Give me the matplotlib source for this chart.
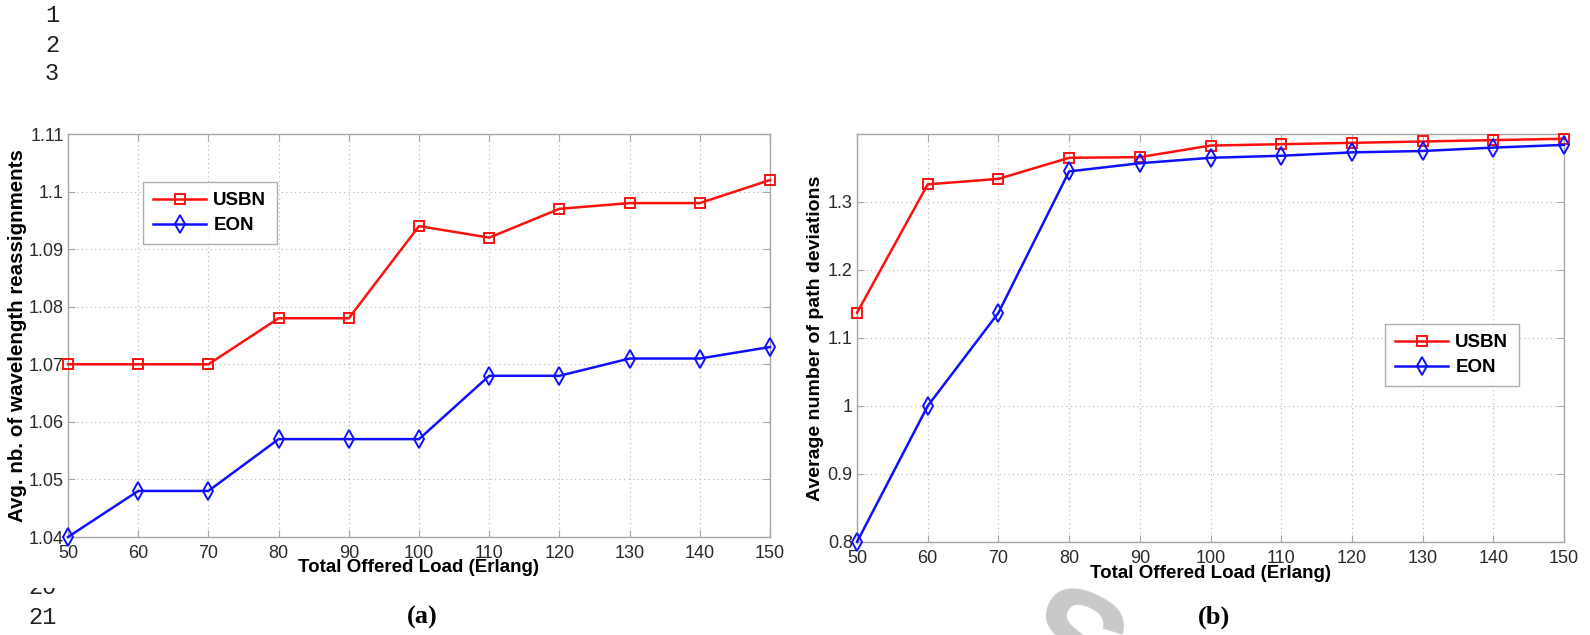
import matplotlib
matplotlib.use("Agg")
import matplotlib.pyplot as plt
from matplotlib.patches import Rectangle

# ---- data ----
load = [50, 60, 70, 80, 90, 100, 110, 120, 130, 140, 150]
usbn_wl = [1.070, 1.070, 1.070, 1.078, 1.078, 1.094, 1.092, 1.097, 1.098, 1.098, 1.102]
eon_wl = [1.040, 1.048, 1.048, 1.057, 1.057, 1.057, 1.068, 1.068, 1.071, 1.071, 1.073]
usbn_path = [1.137, 1.326, 1.334, 1.365, 1.366, 1.383, 1.385, 1.387, 1.389, 1.391, 1.393]
eon_path = [0.800, 1.000, 1.137, 1.345, 1.357, 1.365, 1.368, 1.373, 1.375, 1.380, 1.384]
yticks_a = [1.04, 1.05, 1.06, 1.07, 1.08, 1.09, 1.10, 1.11]
yticklabels_a = ["1.04", "1.05", "1.06", "1.07", "1.08", "1.09", "1.1", "1.11"]
yticks_b = [0.8, 0.9, 1.0, 1.1, 1.2, 1.3]
yticklabels_b = ["0.8", "0.9", "1", "1.1", "1.2", "1.3"]
series_names = ["USBN", "EON"]
xlabel = "Total Offered Load (Erlang)"
ylabel_a = "Avg. nb. of wavelength reassignments"
ylabel_b = "Average number of path deviations"

W, H = 1590, 635
fig = plt.figure(figsize=(W / 100, H / 100), dpi=100)
fig.patch.set_facecolor("white")

SANS = "Liberation Sans"
SPINE = "#a6a6a6"
TXT = "#2b2b2b"


def box(x0, y0, x1, y1):
    return [x0 / W, 1 - y1 / H, (x1 - x0) / W, (y1 - y0) / H]


def style(ax, ylim, yticks, ylabels, ylab, ylabsize, ylab_x, xlab_y):
    ax.set_xlim(50, 150)
    ax.set_ylim(*ylim)
    ax.set_xticks(load)
    ax.set_xticklabels([str(v) for v in load])
    ax.set_yticks(yticks)
    ax.set_yticklabels(ylabels)
    for s in ax.spines.values():
        s.set_color(SPINE)
        s.set_linewidth(1.0)
    ax.tick_params(direction="in", length=5, color=SPINE, top=True, right=True,
                   labelcolor=TXT)
    ax.tick_params(axis="x", labelsize=13, pad=6)
    ax.tick_params(axis="y", labelsize=13, pad=3)
    for lab in ax.get_xticklabels() + ax.get_yticklabels():
        lab.set_fontfamily(SANS)
    ax.grid(True, linestyle=(0, (1, 3)), color="#b5b5b5", linewidth=0.8)
    ax.set_axisbelow(True)
    ax.set_xlabel(xlabel, fontfamily=SANS, fontweight="bold", fontsize=13.5,
                  color="black")
    ax.xaxis.set_label_coords(0.5, xlab_y)
    ax.xaxis.label.set_verticalalignment("center")
    ax.set_ylabel(ylab, fontfamily=SANS, fontweight="bold", fontsize=ylabsize,
                  color="black")
    ax.yaxis.set_label_coords(ylab_x, 0.5)
    ax.yaxis.label.set_verticalalignment("center")


def plot_series(ax, y1, y2):
    ax.plot(load, y1, color="#ff1010", lw=1.8, marker="s", ms=7.5, mfc="none",
            mec="#ff1010", mew=1.4, label=series_names[0], clip_on=False, zorder=3)
    ax.plot(load, y2, color="#1010ff", lw=1.8, marker="d", ms=9, mfc="none",
            mec="#1010ff", mew=1.4, label=series_names[1], clip_on=False, zorder=3)


def legend(ax, x0, y0):
    leg = ax.legend(loc="upper left", bbox_to_anchor=(x0 / W, 1 - y0 / H),
                    bbox_transform=fig.transFigure,
                    prop={"family": SANS, "weight": "bold", "size": 13.5},
                    frameon=True, fancybox=False, handlelength=2.8,
                    borderpad=0.55, labelspacing=0.4, handletextpad=0.4,
                    borderaxespad=0)
    leg.get_frame().set_edgecolor("#9a9a9a")
    leg.get_frame().set_linewidth(1.0)


axa = fig.add_axes(box(68, 134, 770, 537))
plot_series(axa, usbn_wl, eon_wl)
style(axa, (1.04, 1.11), yticks_a, yticklabels_a, ylabel_a, 14.8,
      (18 - 68) / 702, (537 - 568) / 403)
legend(axa, 143, 182)

axb = fig.add_axes(box(857, 134, 1564, 542))
plot_series(axb, usbn_path, eon_path)
style(axb, (0.8, 1.4), yticks_b, yticklabels_b, ylabel_b, 14,
      (815 - 857) / 707, (542 - 573) / 408)
legend(axb, 1385, 324)

# line numbers of the page
MONO = "Liberation Mono"
for txt, y in [("1", 15), ("2", 45), ("3", 74)]:
    fig.text(52 / W, 1 - y / H, txt, fontfamily=MONO, fontsize=17, ha="center",
             va="center", color="#222222")
fig.text(42 / W, 1 - 588 / H, "20", fontfamily=MONO, fontsize=17, ha="center",
         va="center", color="#222222", zorder=1)
# the upper half of "20" is hidden behind the pasted figure in the page
fig.add_artist(Rectangle((15 / W, 1 - 588 / H), 55 / W, 25 / H,
                         transform=fig.transFigure, facecolor="white",
                         edgecolor="none", zorder=2))
fig.text(42 / W, 1 - 617 / H, "21", fontfamily=MONO, fontsize=17, ha="center",
         va="center", color="#222222")

# sub-figure captions
fig.text(422 / W, 1 - 617 / H, "(a)", fontfamily="Liberation Serif",
         fontweight="bold", fontsize=19, ha="center", va="center")
fig.text(1214 / W, 1 - 617 / H, "(b)", fontfamily="Liberation Serif",
         fontweight="bold", fontsize=19, ha="center", va="center")

# faint watermark
fig.text(1068 / W, 1 - 655 / H, "S", fontfamily=SANS, fontweight="bold",
         fontsize=105, rotation=-25, ha="center", va="center", color="#c9c9c9",
         zorder=0)

fig.savefig("out.png", dpi=100, facecolor="white")
